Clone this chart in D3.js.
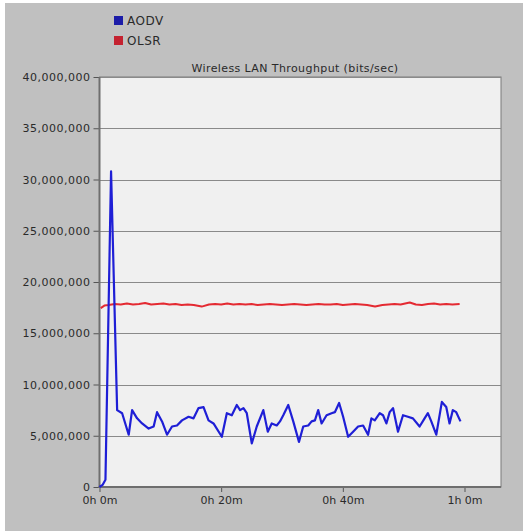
<!DOCTYPE html>
<html lang="en">
<head>
    <meta charset="UTF-8">
    <title>Wireless LAN Throughput</title>
    <script src="https://cdn.jsdelivr.net/npm/d3@7"></script>
    <style>
        body { margin: 0; background: #fff; }
        text { font-family: "DejaVu Sans", sans-serif; fill: #2a2a2a; }
    </style>
</head>
<body>
<script>
    // minutes, throughput (bits/sec)
    var aodvSeries = [
        [0, 0], [0.5, 0.2e6], [0.98, 0.7e6], [1.9, 30.8e6], [2.9, 7.5e6], [3.72, 7.2e6],
        [4.8, 5.1e6], [5.36, 7.5e6], [6.18, 6.7e6], [7.0, 6.2e6], [8.08, 5.7e6], [8.9, 5.9e6],
        [9.46, 7.3e6], [10.28, 6.4e6], [11.1, 5.1e6], [11.92, 5.9e6], [12.74, 6.0e6], [13.56, 6.5e6],
        [14.64, 6.85e6], [15.46, 6.7e6], [16.28, 7.7e6], [17.1, 7.8e6], [17.92, 6.5e6], [18.74, 6.2e6],
        [20.11, 4.9e6], [20.93, 7.2e6], [21.75, 7.0e6], [22.57, 8.0e6], [23.11, 7.5e6], [23.66, 7.7e6],
        [24.21, 7.2e6], [25.03, 4.25e6], [25.85, 5.9e6], [26.93, 7.5e6], [27.66, 5.4e6], [28.31, 6.2e6],
        [29.13, 6.0e6], [29.67, 6.4e6], [30.21, 7.0e6], [31.03, 8.0e6], [31.85, 6.4e6], [32.79, 4.4e6],
        [33.49, 5.9e6], [34.31, 6.0e6], [34.87, 6.4e6], [35.41, 6.5e6], [35.95, 7.5e6], [36.51, 6.2e6],
        [37.33, 7.0e6], [38.15, 7.2e6], [38.69, 7.3e6], [39.39, 8.2e6], [40.05, 6.85e6], [40.87, 4.9e6],
        [41.69, 5.4e6], [42.51, 5.9e6], [43.33, 6.0e6], [44.15, 5.1e6], [44.7, 6.7e6], [45.25, 6.5e6],
        [46.07, 7.2e6], [46.61, 7.0e6], [47.16, 6.2e6], [47.7, 7.3e6], [48.25, 7.7e6], [49.07, 5.4e6],
        [49.89, 7.0e6], [50.7, 6.85e6], [51.52, 6.7e6], [52.62, 5.9e6], [53.44, 6.7e6], [53.98, 7.2e6],
        [54.54, 6.4e6], [55.36, 5.1e6], [56.28, 8.3e6], [57.0, 7.8e6], [57.54, 6.2e6], [58.08, 7.5e6],
        [58.64, 7.3e6], [59.34, 6.4e6]
    ];

    var olsrSeries = [
        [0.2, 17.45e6], [0.8, 17.7e6], [1.5, 17.75e6], [2.5, 17.85e6], [3.5, 17.8e6], [4.5, 17.9e6],
        [5.5, 17.8e6], [6.5, 17.85e6], [7.5, 17.95e6], [8.5, 17.8e6], [9.5, 17.85e6], [10.5, 17.9e6],
        [11.5, 17.8e6], [12.5, 17.85e6], [13.5, 17.75e6], [14.5, 17.8e6], [15.5, 17.75e6], [16.8, 17.6e6],
        [18, 17.8e6], [19, 17.85e6], [20, 17.8e6], [21, 17.9e6], [22, 17.8e6], [23, 17.85e6],
        [24, 17.8e6], [25, 17.85e6], [26, 17.75e6], [27, 17.8e6], [28, 17.85e6], [29, 17.8e6],
        [30, 17.75e6], [31, 17.8e6], [32, 17.85e6], [33, 17.8e6], [34, 17.75e6], [35, 17.8e6],
        [36, 17.85e6], [37, 17.8e6], [38, 17.8e6], [39, 17.85e6], [40, 17.75e6], [41, 17.8e6],
        [42, 17.85e6], [43, 17.8e6], [44, 17.75e6], [45.3, 17.6e6], [46.5, 17.75e6], [47.5, 17.8e6],
        [48.5, 17.85e6], [49.5, 17.8e6], [51, 18.0e6], [52, 17.8e6], [53, 17.75e6], [54, 17.85e6],
        [55, 17.9e6], [56, 17.8e6], [57, 17.85e6], [58, 17.8e6], [59.2, 17.85e6]
    ];

    var seriesNames = ["AODV", "OLSR"];
    var seriesColors = ["#1f1fd6", "#e42a32"];
    var legendColors = ["#1c1ca8", "#c42230"];
    var yTicks = [0, 5e6, 10e6, 15e6, 20e6, 25e6, 30e6, 35e6, 40e6];
    var xTicks = [0, 20, 40, 60];
    var chartTitle = "Wireless LAN Throughput (bits/sec)";

    var width = 528, height = 531;
    var plotLeft = 99.5, plotTop = 77, plotRight = 501, plotBottom = 487;

    var svg = d3.select("body").append("svg")
            .attr("width", width)
            .attr("height", height);

    // grey panel
    svg.append("rect")
            .attr("x", 5).attr("y", 3)
            .attr("width", 518).attr("height", 528)
            .style("fill", "#c0c0c0");

    var x = d3.scaleLinear().domain([0, 66]).range([plotLeft, plotRight]);
    var y = d3.scaleLinear().domain([0, 40e6]).range([plotBottom, plotTop]);

    // plot area
    svg.append("rect")
            .attr("x", plotLeft).attr("y", plotTop)
            .attr("width", plotRight - plotLeft).attr("height", plotBottom - plotTop)
            .style("fill", "#f0f0f0")
            .style("stroke", "#7a7a7a")
            .style("stroke-width", 1);

    // grid lines
    svg.selectAll("line.grid")
            .data(yTicks)
            .enter().append("line")
            .attr("class", "grid")
            .attr("x1", plotLeft).attr("x2", plotRight)
            .attr("y1", function (d) { return Math.round(y(d)) + 0.5; })
            .attr("y2", function (d) { return Math.round(y(d)) + 0.5; })
            .style("stroke", "#8a8a8a")
            .style("stroke-width", 1);

    // y axis
    var yAxis = svg.append("g")
            .attr("transform", "translate(" + plotLeft + ",0)")
            .call(d3.axisLeft(y).tickValues(yTicks).tickSize(6).tickPadding(3)
                    .tickFormat(d3.format(",")));
    yAxis.select(".domain").remove();
    yAxis.selectAll(".tick line").style("stroke", "#555");
    yAxis.selectAll(".tick text")
            .style("font-size", "11px")
            .style("letter-spacing", "0.5px")
            .style("font-family", "DejaVu Sans, sans-serif")
            .style("fill", "#2a2a2a");

    // x axis
    var xAxis = svg.append("g")
            .attr("transform", "translate(0," + plotBottom + ")")
            .call(d3.axisBottom(x).tickValues(xTicks).tickSize(5).tickPadding(4)
                    .tickFormat(function (d) {
                        return Math.floor(d / 60) + "h " + (d % 60) + "m";
                    }));
    xAxis.select(".domain").remove();
    xAxis.selectAll(".tick line").style("stroke", "#555");
    xAxis.selectAll(".tick text")
            .style("font-size", "11px")
            .style("font-family", "DejaVu Sans, sans-serif")
            .style("fill", "#2a2a2a");

    // heavy axis lines
    svg.append("line")
            .attr("x1", plotLeft).attr("x2", plotLeft)
            .attr("y1", plotTop).attr("y2", plotBottom + 1)
            .style("stroke", "#6e6e6e").style("stroke-width", 2);
    svg.append("line")
            .attr("x1", plotLeft - 1).attr("x2", plotRight)
            .attr("y1", plotBottom).attr("y2", plotBottom)
            .style("stroke", "#6e6e6e").style("stroke-width", 2);

    // title
    svg.append("text")
            .attr("x", 295)
            .attr("y", 72)
            .attr("text-anchor", "middle")
            .style("font-size", "11px")
            .style("letter-spacing", "0.4px")
            .text(chartTitle);

    var line = d3.line()
            .x(function (d) { return x(d[0]); })
            .y(function (d) { return y(d[1]); });

    // red first, blue on top
    svg.append("path")
            .datum(olsrSeries)
            .attr("d", line)
            .style("fill", "none")
            .style("stroke", seriesColors[1])
            .style("stroke-width", 2)
            .style("stroke-linejoin", "round");

    svg.append("path")
            .datum(aodvSeries)
            .attr("d", line)
            .style("fill", "none")
            .style("stroke", seriesColors[0])
            .style("stroke-width", 2.2)
            .style("stroke-linejoin", "round");

    // legend
    var legend = svg.selectAll("g.legend")
            .data(seriesNames)
            .enter().append("g")
            .attr("class", "legend")
            .attr("transform", function (d, i) {
                return "translate(114," + (16 + i * 20) + ")";
            });
    legend.append("rect")
            .attr("width", 9).attr("height", 9)
            .style("fill", function (d, i) { return legendColors[i]; });
    legend.append("text")
            .attr("x", 13).attr("y", 8.5)
            .style("font-size", "12px")
            .style("letter-spacing", "0.5px")
            .text(function (d) { return d; });
</script>
</body>
</html>
